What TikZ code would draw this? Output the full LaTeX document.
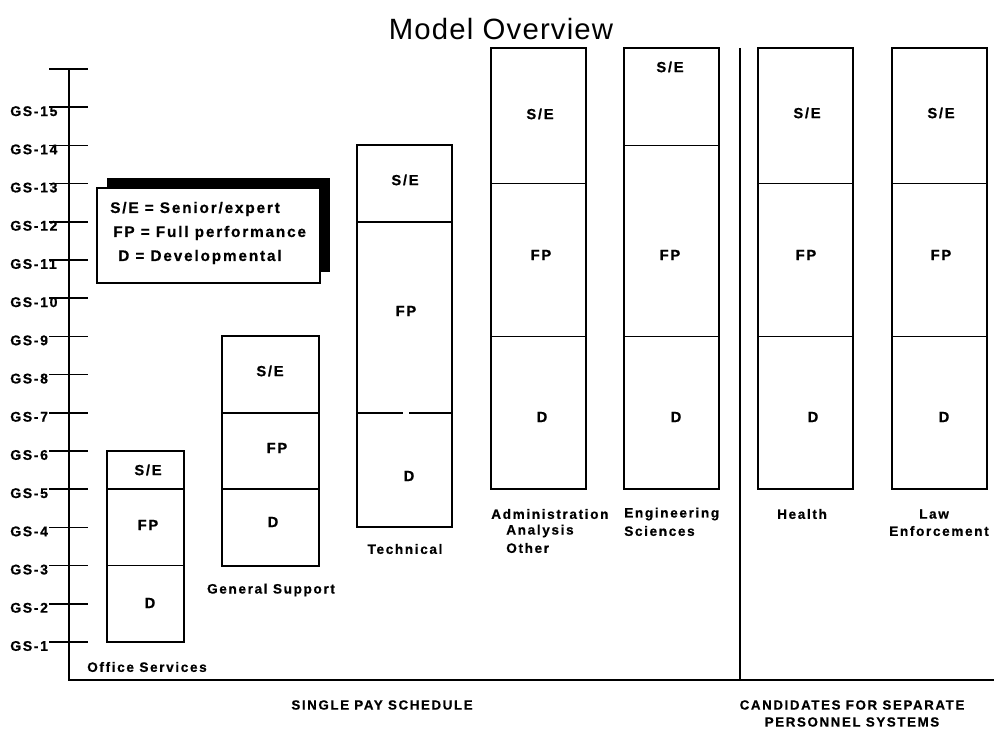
\documentclass[tikz,border=0pt]{standalone}
\usepackage{fontspec}
\setmainfont{Liberation Sans}
\newfontfamily\labfont[LetterSpace=12,BoldFeatures={FakeBold=0.6}]{Liberation Sans}
\newfontfamily\headfont[LetterSpace=4]{Liberation Sans}

\begin{document}
\begin{tikzpicture}[x=0.75pt,y=-0.75pt,
  axisline/.style={line width=1.9pt},
  tickline/.style={line width=1.3pt},
  gradebox/.style={line width=1.5pt},
  bandline/.style={line width=1.1pt},
  gslabel/.style={anchor=west,inner sep=0pt,font=\labfont\bfseries\fontsize{10.5}{12}\selectfont},
  bandlabel/.style={inner sep=0pt,font=\labfont\bfseries\fontsize{11}{12}\selectfont},
  catlabel/.style={inner sep=0pt,font=\labfont\bfseries\fontsize{10.2}{12}\selectfont},
  legendtext/.style={anchor=west,inner sep=0pt,font=\labfont\bfseries\fontsize{11.5}{13}\selectfont},
  footlabel/.style={inner sep=0pt,font=\labfont\bfseries\fontsize{10}{12}\selectfont}]
\useasboundingbox (0,0) rectangle (994,730);

% title
\node[inner sep=0pt,font=\headfont\fontsize{22}{25}\selectfont] (title) at (501,29) {Model Overview};

% grade axis
\draw[axisline] (69,69) -- (69,680) -- (994,680);
\draw[axisline] (740,48) -- (740,680);
\draw[tickline] (49,69) -- (88,69);
\foreach \g in {1,...,15}{
  \pgfmathsetmacro\yy{642-(\g-1)*38.2}
  \draw[tickline] (49,\yy) -- (88,\yy);
  \node[gslabel] (gs\g) at (10,\yy+4) {GS-\g};
}

% legend with its dark shadow
\fill (107,178) rectangle (330,188);
\fill (321,178) rectangle (330,272);
\draw[fill=white,line width=0.9pt] (97,188) rectangle (320,283);
\node[legendtext] (leg1) at (110,209) {S/E = Senior/expert};
\node[legendtext] (leg2) at (113,233) {FP = Full performance};
\node[legendtext] (leg3) at (118,257) {D = Developmental};

% Office Services
\draw[gradebox] (107,451) rectangle (184,642);
\draw[bandline] (107,489.2) -- (184,489.2);
\draw[bandline] (107,565.6) -- (184,565.6);
\node[bandlabel] (os-se) at (148,470) {S/E};
\node[bandlabel] (os-fp) at (148,525) {FP};
\node[bandlabel] (os-d) at (150,603) {D};
\node[catlabel,anchor=west] (os) at (87,667) {Office Services};

% General Support
\draw[gradebox] (222,336.4) rectangle (319,565.6);
\draw[bandline] (222,412.8) -- (319,412.8);
\draw[bandline] (222,489.2) -- (319,489.2);
\node[bandlabel] (gsu-se) at (270,371) {S/E};
\node[bandlabel] (gsu-fp) at (277,448) {FP};
\node[bandlabel] (gsu-d) at (273,522) {D};
\node[catlabel] (gsu) at (271,590) {General Support};

% Technical
\draw[gradebox] (357,145.4) rectangle (452,527.4);
\draw[bandline] (357,221.8) -- (452,221.8);
\draw[bandline] (357,412.8) -- (403,412.8);
\draw[bandline] (409,412.8) -- (452,412.8);
\node[bandlabel] (tc-se) at (405,180) {S/E};
\node[bandlabel] (tc-fp) at (406,311) {FP};
\node[bandlabel] (tc-d) at (409,476) {D};
\node[catlabel] (tc) at (405,549) {Technical};

% Administration / Analysis / Other
\draw[gradebox] (491,48) rectangle (586,489.2);
\draw[bandline] (491,183.6) -- (586,183.6);
\draw[bandline] (491,336.4) -- (586,336.4);
\node[bandlabel] (aa-se) at (540,114) {S/E};
\node[bandlabel] (aa-fp) at (541,255) {FP};
\node[bandlabel] (aa-d) at (542,417) {D};
\node[catlabel,anchor=west] (aa1) at (491,514) {Administration};
\node[catlabel,anchor=west] (aa2) at (506,531) {Analysis};
\node[catlabel,anchor=west] (aa3) at (506,548) {Other};

% Engineering Sciences
\draw[gradebox] (624,48) rectangle (719,489.2);
\draw[bandline] (624,145.4) -- (719,145.4);
\draw[bandline] (624,336.4) -- (719,336.4);
\node[bandlabel] (es-se) at (670,67) {S/E};
\node[bandlabel] (es-fp) at (670,255) {FP};
\node[bandlabel] (es-d) at (676,417) {D};
\node[catlabel,anchor=west] (es1) at (624,514) {Engineering};
\node[catlabel,anchor=west] (es2) at (624,531) {Sciences};

% Health
\draw[gradebox] (758,48) rectangle (853,489.2);
\draw[bandline] (758,183.6) -- (853,183.6);
\draw[bandline] (758,336.4) -- (853,336.4);
\node[bandlabel] (hl-se) at (807,113) {S/E};
\node[bandlabel] (hl-fp) at (806,255) {FP};
\node[bandlabel] (hl-d) at (813,417) {D};
\node[catlabel] (hl) at (802,514) {Health};

% Law Enforcement
\draw[gradebox] (892,48) rectangle (987,489.2);
\draw[bandline] (892,183.6) -- (987,183.6);
\draw[bandline] (892,336.4) -- (987,336.4);
\node[bandlabel] (le-se) at (941,113) {S/E};
\node[bandlabel] (le-fp) at (941,255) {FP};
\node[bandlabel] (le-d) at (944,417) {D};
\node[catlabel] (le1) at (934,514) {Law};
\node[catlabel] (le2) at (939,531) {Enforcement};

% schedule captions
\node[footlabel] (single) at (382,705) {SINGLE PAY SCHEDULE};
\node[footlabel] (sep1) at (852,705) {CANDIDATES FOR SEPARATE};
\node[footlabel] (sep2) at (852,722) {PERSONNEL SYSTEMS};
\end{tikzpicture}
\end{document}
